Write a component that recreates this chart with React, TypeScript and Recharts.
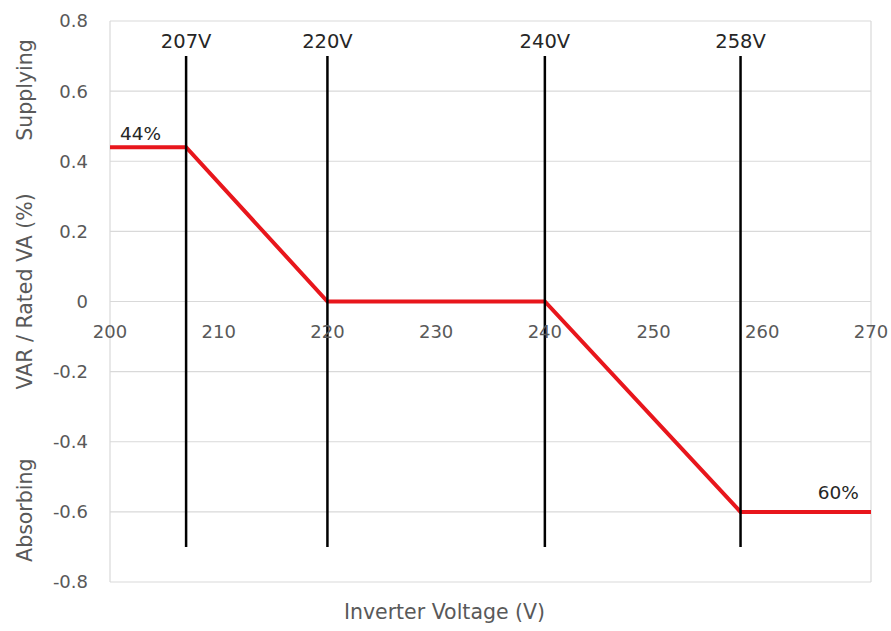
import { CartesianGrid, LineChart, Line, ReferenceDot, ReferenceLine, XAxis, YAxis } from "recharts"

const voltages = [200, 207, 220, 240, 258, 270]
const varRatio = [0.44, 0.44, 0, 0, -0.6, -0.6]
const setpoints = [207, 220, 240, 258]
const setpointLabels = ["207V", "220V", "240V", "258V"]
const xTicks = [200, 210, 220, 230, 240, 250, 260, 270]
const yTicks = [-0.8, -0.6, -0.4, -0.2, 0, 0.2, 0.4, 0.6, 0.8]

const FONT = "'DejaVu Sans', Verdana, sans-serif"
const GREY = "#595959"
const DARK = "#262626"

const chartData = voltages.map((v, i) => ({ v, q: varRatio[i] }))

const YTitle = ({ viewBox }: any) => {
  const cx = viewBox.x + 15
  const top = viewBox.y
  const h = viewBox.height
  const style = { fontFamily: FONT, fontSize: 20.5, fill: GREY }
  const t = (y: number, s: string) => (
    <text x={cx} y={y} transform={`rotate(-90 ${cx} ${y})`} textAnchor="middle" dominantBaseline="central" style={style}>
      {s}
    </text>
  )
  return (
    <g>
      {t(top + h * 0.123, "Supplying")}
      {t(top + h * 0.482, "VAR / Rated VA (%)")}
      {t(top + h * 0.872, "Absorbing")}
    </g>
  )
}

const App = () => {
  return (
    <div style={{ position: "absolute", left: 0, top: 0, background: "#fff" }}>
      <LineChart width={891} height={631} data={chartData} margin={{ top: 21, right: 20, left: 10, bottom: 0 }}>
        <CartesianGrid stroke="#d9d9d9" strokeWidth={1.2} />
        <XAxis
          dataKey="v"
          type="number"
          domain={[200, 270]}
          ticks={xTicks}
          tick={false}
          tickLine={false}
          axisLine={false}
          height={49}
          label={{ value: "Inverter Voltage (V)", position: "insideBottom", offset: 12, dx: -46, style: { fontFamily: FONT, fontSize: 20.5, fill: GREY } }}
        />
        <YAxis
          type="number"
          domain={[-0.8, 0.8]}
          ticks={yTicks}
          width={100}
          tickSize={0}
          tickMargin={22}
          tickLine={false}
          axisLine={false}
          tick={{ fontFamily: FONT, fontSize: 18, fill: GREY }}
          label={<YTitle />}
        />
        {xTicks.map((t) => (
          <ReferenceDot
            key={`xt${t}`}
            x={t}
            y={0}
            r={0}
            fill="none"
            stroke="none"
            label={{ value: t, position: "bottom", offset: 24, style: { fontFamily: FONT, fontSize: 18, fill: GREY } }}
          />
        ))}
        <Line dataKey="q" type="linear" stroke="#e8161c" strokeWidth={4} dot={false} isAnimationActive={false} />
        {setpoints.map((s, i) => (
          <ReferenceLine
            key={`sp${s}`}
            segment={[
              { x: s, y: -0.7 },
              { x: s, y: 0.7 },
            ]}
            stroke="#000"
            strokeWidth={2.5}
            label={{ value: setpointLabels[i], position: "top", offset: 8, style: { fontFamily: FONT, fontSize: 19.5, fill: DARK } }}
          />
        ))}
        <ReferenceDot
          x={202.8}
          y={0.48}
          r={0}
          fill="none"
          stroke="none"
          label={{ value: "44%", position: "center", style: { fontFamily: FONT, fontSize: 18.5, fill: DARK } }}
        />
        <ReferenceDot
          x={267}
          y={-0.545}
          r={0}
          fill="none"
          stroke="none"
          label={{ value: "60%", position: "center", style: { fontFamily: FONT, fontSize: 18.5, fill: DARK } }}
        />
      </LineChart>
    </div>
  )
}

export default App
